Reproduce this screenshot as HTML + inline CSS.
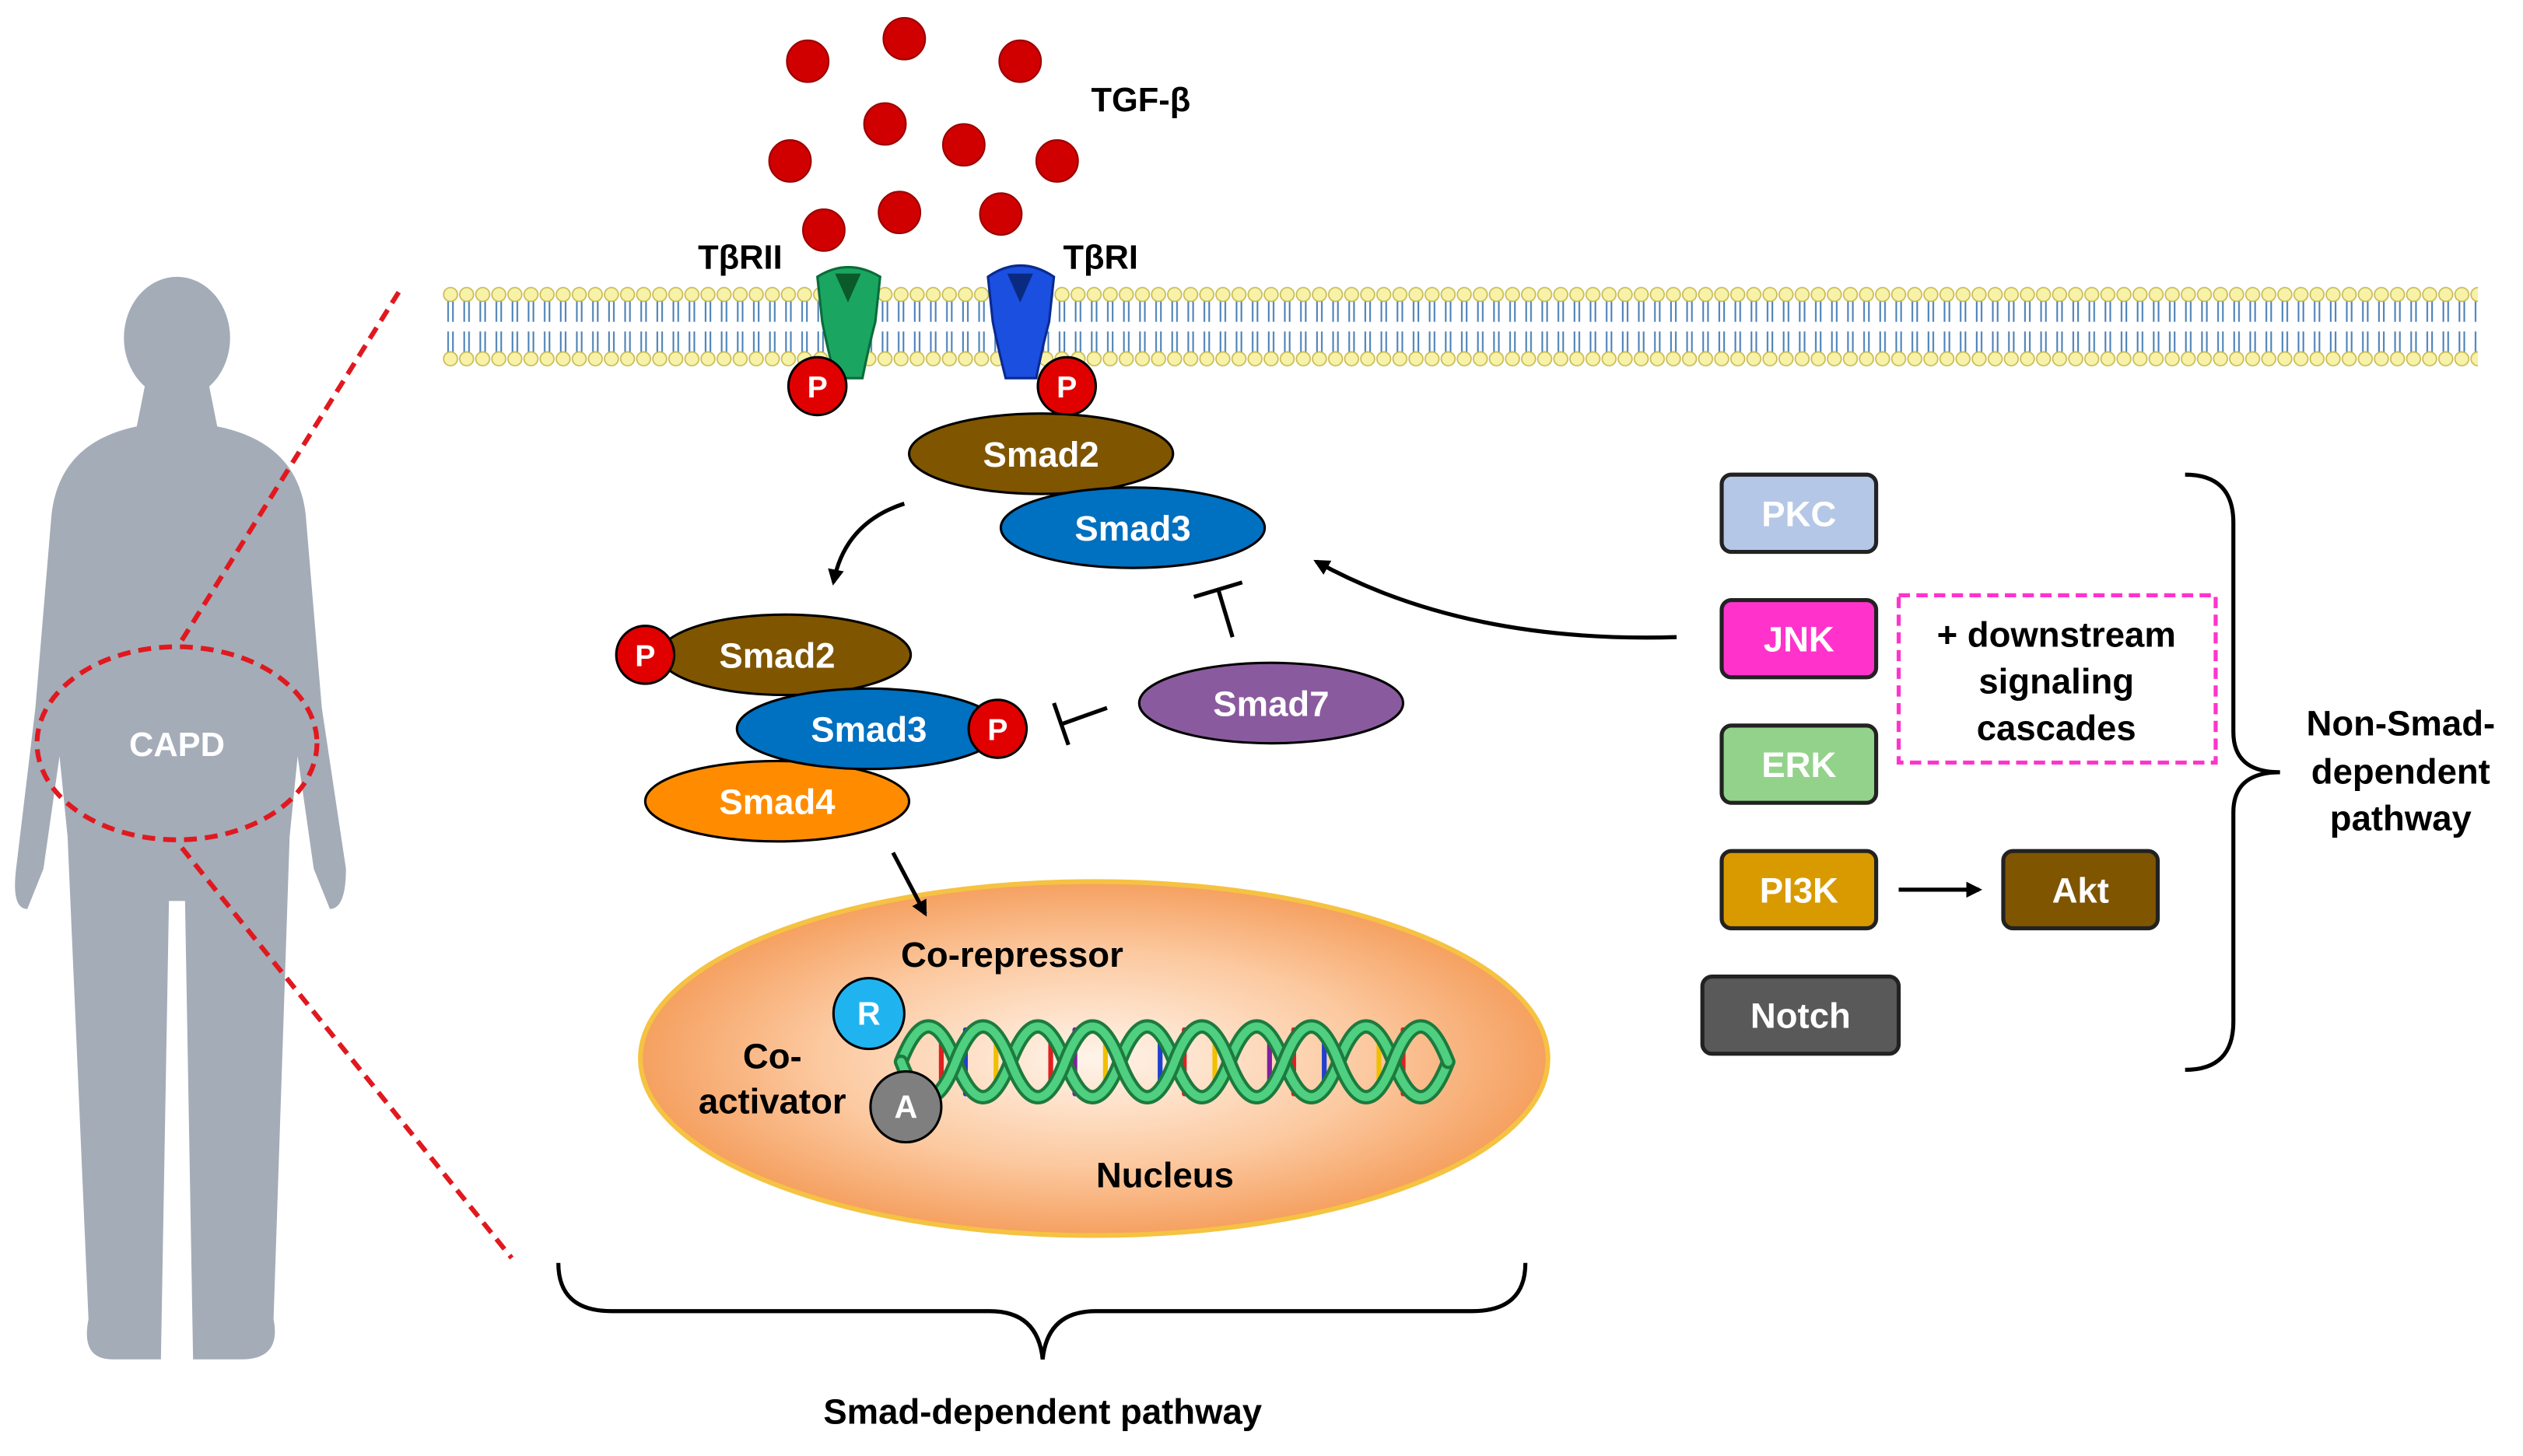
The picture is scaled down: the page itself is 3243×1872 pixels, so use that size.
<!DOCTYPE html>
<html><head><meta charset="utf-8"><style>html,body{margin:0;padding:0;background:#fff}svg{display:block}text{font-family:"Liberation Sans",sans-serif;font-weight:bold}</style></head><body>
<svg width="3243" height="1872" viewBox="0 0 1568 905" xmlns="http://www.w3.org/2000/svg">
<defs>
<pattern id="mem" x="275" y="178" width="10" height="50" patternUnits="userSpaceOnUse">
<line x1="3.5" y1="9" x2="3.5" y2="22" stroke="#4a7fb5" stroke-width="1"/><line x1="6.5" y1="9" x2="6.5" y2="22" stroke="#4a7fb5" stroke-width="1"/>
<line x1="3.5" y1="28" x2="3.5" y2="41" stroke="#4a7fb5" stroke-width="1"/><line x1="6.5" y1="28" x2="6.5" y2="41" stroke="#4a7fb5" stroke-width="1"/>
<circle cx="5" cy="5" r="4.3" fill="#f7f2a8" stroke="#c9b94f" stroke-width="0.8"/><circle cx="5" cy="45" r="4.3" fill="#f7f2a8" stroke="#c9b94f" stroke-width="0.8"/>
</pattern>
<radialGradient id="nuc" cx="50%" cy="50%" r="50%"><stop offset="0" stop-color="#fff4ea"/><stop offset="0.6" stop-color="#fcc9a0"/><stop offset="1" stop-color="#f5a060"/></radialGradient>
<marker id="ar" markerWidth="10" markerHeight="10" refX="8" refY="5" orient="auto" markerUnits="userSpaceOnUse"><path d="M0,0 L10,5 L0,10 Z" fill="#000"/></marker>
</defs>
<ellipse cx="110" cy="210" rx="33" ry="38" fill="#a4acb8"/>
<path d="M90 240 L130 240 L135 265 Q185 275 190 320 L200 440 L215 540 Q215 565 205 565 L195 540 L185 470 L180 520 L170 820 Q175 845 150 845 L120 845 L115 560 L105 560 L100 845 L70 845 Q50 845 55 820 L42 520 L37 470 L27 540 L17 565 Q7 565 10 540 L22 440 L32 320 Q37 275 85 265 Z" fill="#a4acb8"/>
<ellipse cx="110" cy="462" rx="87" ry="60" fill="none" stroke="#e0191f" stroke-width="3" stroke-dasharray="8,5"/>
<text x="110" y="470" font-size="21" fill="#fff" text-anchor="middle">CAPD</text>
<line x1="113" y1="398" x2="250" y2="178" stroke="#e0191f" stroke-width="3" stroke-dasharray="8,5"/>
<line x1="113" y1="527" x2="318" y2="782" stroke="#e0191f" stroke-width="3" stroke-dasharray="8,5"/>
<rect x="275" y="178" width="1265" height="50" fill="url(#mem)"/>
<g fill="#d00000" stroke="#900" stroke-width="1">
<circle cx="502" cy="38" r="13"/><circle cx="562" cy="24" r="13"/><circle cx="634" cy="38" r="13"/><circle cx="550" cy="77" r="13"/><circle cx="599" cy="90" r="13"/><circle cx="491" cy="100" r="13"/><circle cx="657" cy="100" r="13"/><circle cx="512" cy="143" r="13"/><circle cx="559" cy="132" r="13"/><circle cx="622" cy="133" r="13"/></g>
<text x="709" y="69" font-size="21" text-anchor="middle">TGF-β</text>
<text x="460" y="167" font-size="21" text-anchor="middle">TβRII</text>
<text x="684" y="167" font-size="21" text-anchor="middle">TβRI</text>
<path d="M508 172 Q527 160 547 172 L544 200 Q540 215 536 235 L519 235 Q514 215 511 200 Z" fill="#1aa660" stroke="#0a6b3a" stroke-width="1.5"/>
<path d="M519 170 L527 188 L535 170" fill="#0a5a2a"/>
<path d="M614 172 Q634 158 655 172 L652 200 Q648 215 644 235 L625 235 Q620 215 617 200 Z" fill="#1a4fe0" stroke="#0a2a90" stroke-width="1.5"/>
<path d="M626 170 L634 188 L642 170" fill="#0a2a80"/>
<g font-size="19" fill="#fff" text-anchor="middle">
<circle cx="508" cy="240" r="18" fill="#e00000" stroke="#000" stroke-width="1.5"/><text x="508" y="247">P</text>
<circle cx="663" cy="240" r="18" fill="#e00000" stroke="#000" stroke-width="1.5"/><text x="663" y="247">P</text>
</g>
<g font-size="22" fill="#fff" text-anchor="middle" stroke-width="1.5">
<ellipse cx="647" cy="282" rx="82" ry="25" fill="#7f5500" stroke="#000"/><text x="647" y="290">Smad2</text>
<ellipse cx="704" cy="328" rx="82" ry="25" fill="#0070c0" stroke="#000"/><text x="704" y="336">Smad3</text>
<ellipse cx="488" cy="407" rx="78" ry="25" fill="#7f5500" stroke="#000"/><text x="483" y="415">Smad2</text>
<ellipse cx="483" cy="498" rx="82" ry="25" fill="#ff8c00" stroke="#000"/><text x="483" y="506">Smad4</text>
<ellipse cx="540" cy="453" rx="82" ry="25" fill="#0070c0" stroke="#000"/><text x="540" y="461">Smad3</text>
<ellipse cx="790" cy="437" rx="82" ry="25" fill="#8a5a9e" stroke="#000"/><text x="790" y="445">Smad7</text>
<circle cx="401" cy="407" r="18" fill="#e00000" stroke="#000"/><text x="401" y="414" font-size="19">P</text>
<circle cx="620" cy="453" r="18" fill="#e00000" stroke="#000"/><text x="620" y="460" font-size="19">P</text>
</g>
<path d="M562 313 Q525 325 518 362" fill="none" stroke="#000" stroke-width="2.5" marker-end="url(#ar)"/>
<path d="M1042 396 Q910 400 818 349" fill="none" stroke="#000" stroke-width="2.5" marker-end="url(#ar)"/>
<line x1="766" y1="396" x2="757" y2="366" stroke="#000" stroke-width="2.5"/><line x1="742" y1="371" x2="772" y2="362" stroke="#000" stroke-width="2.5"/>
<line x1="688" y1="440" x2="660" y2="450" stroke="#000" stroke-width="2.5"/><line x1="655" y1="437" x2="664" y2="463" stroke="#000" stroke-width="2.5"/>
<ellipse cx="680" cy="658" rx="282" ry="110" fill="url(#nuc)" stroke="#f5c242" stroke-width="3"/>
<line x1="555" y1="530" x2="575" y2="568" stroke="#000" stroke-width="2.5" marker-end="url(#ar)"/>
<g fill="none" stroke-linecap="round">
<g stroke-width="3">
<line x1="585" y1="645" x2="585" y2="675" stroke="#e02020"/><line x1="600" y1="640" x2="600" y2="680" stroke="#2040d0"/><line x1="619" y1="645" x2="619" y2="675" stroke="#f0c000"/>
<line x1="653" y1="645" x2="653" y2="675" stroke="#e02020"/><line x1="668" y1="640" x2="668" y2="680" stroke="#8020a0"/><line x1="687" y1="645" x2="687" y2="675" stroke="#f0c000"/>
<line x1="721" y1="645" x2="721" y2="675" stroke="#2040d0"/><line x1="736" y1="640" x2="736" y2="680" stroke="#e02020"/><line x1="755" y1="645" x2="755" y2="675" stroke="#f0c000"/>
<line x1="789" y1="645" x2="789" y2="675" stroke="#8020a0"/><line x1="804" y1="640" x2="804" y2="680" stroke="#e02020"/><line x1="823" y1="645" x2="823" y2="675" stroke="#2040d0"/>
<line x1="857" y1="645" x2="857" y2="675" stroke="#f0c000"/><line x1="872" y1="640" x2="872" y2="680" stroke="#e02020"/>
</g>
<path d="M560 660 q17 -44 34 0 t34 0 t34 0 t34 0 t34 0 t34 0 t34 0 t34 0 t34 0 t34 0" stroke="#1d7a3e" stroke-width="9"/>
<path d="M560 660 q17 -44 34 0 t34 0 t34 0 t34 0 t34 0 t34 0 t34 0 t34 0 t34 0 t34 0" stroke="#4fcf80" stroke-width="5"/>
<path d="M560 660 q17 44 34 0 t34 0 t34 0 t34 0 t34 0 t34 0 t34 0 t34 0 t34 0 t34 0" stroke="#1d7a3e" stroke-width="9"/>
<path d="M560 660 q17 44 34 0 t34 0 t34 0 t34 0 t34 0 t34 0 t34 0 t34 0 t34 0 t34 0" stroke="#4fcf80" stroke-width="5"/>
</g>
<circle cx="540" cy="630" r="22" fill="#1fb4f0" stroke="#000" stroke-width="1.5"/><text x="540" y="637" font-size="20" fill="#fff" text-anchor="middle">R</text>
<circle cx="563" cy="688" r="22" fill="#7f7f7f" stroke="#000" stroke-width="1.5"/><text x="563" y="695" font-size="20" fill="#fff" text-anchor="middle">A</text>
<g font-size="22" text-anchor="middle">
<text x="629" y="601">Co-repressor</text><text x="480" y="664">Co-</text><text x="480" y="692">activator</text><text x="724" y="738">Nucleus</text>
<text x="648" y="885">Smad-dependent pathway</text>
</g>
<path d="M347 785 Q347 815 380 815 L615 815 Q645 815 648 845 Q651 815 681 815 L915 815 Q948 815 948 785" fill="none" stroke="#000" stroke-width="2.5"/>
<g font-size="20" fill="#fff" text-anchor="middle" stroke="#222" stroke-width="2.5">
<rect x="1070" y="295" width="96" height="48" rx="6" fill="#b4c7e7"/>
<rect x="1070" y="373" width="96" height="48" rx="6" fill="#ff33cc"/>
<rect x="1070" y="451" width="96" height="48" rx="6" fill="#93d28a"/>
<rect x="1070" y="529" width="96" height="48" rx="6" fill="#d99a00"/>
<rect x="1058" y="607" width="122" height="48" rx="6" fill="#595959"/>
<rect x="1245" y="529" width="96" height="48" rx="6" fill="#7f5500"/>
</g>
<g font-size="22" fill="#fff" text-anchor="middle">
<text x="1118" y="327">PKC</text><text x="1118" y="405">JNK</text><text x="1118" y="483">ERK</text><text x="1118" y="561">PI3K</text><text x="1119" y="639">Notch</text><text x="1293" y="561">Akt</text>
</g>
<line x1="1180" y1="553" x2="1230" y2="553" stroke="#000" stroke-width="2.5" marker-end="url(#ar)"/>
<rect x="1180" y="370" width="197" height="104" fill="none" stroke="#ff33cc" stroke-width="2.5" stroke-dasharray="7,4"/>
<g font-size="22" text-anchor="middle">
<text x="1278" y="402">+ downstream</text><text x="1278" y="431">signaling</text><text x="1278" y="460">cascades</text>
<text x="1492" y="457">Non-Smad-</text><text x="1492" y="487">dependent</text><text x="1492" y="516">pathway</text>
</g>
<path d="M1358 295 Q1388 295 1388 325 L1388 455 Q1388 480 1417 480 Q1388 480 1388 505 L1388 635 Q1388 665 1358 665" fill="none" stroke="#000" stroke-width="2.5"/>
</svg>
</body></html>
